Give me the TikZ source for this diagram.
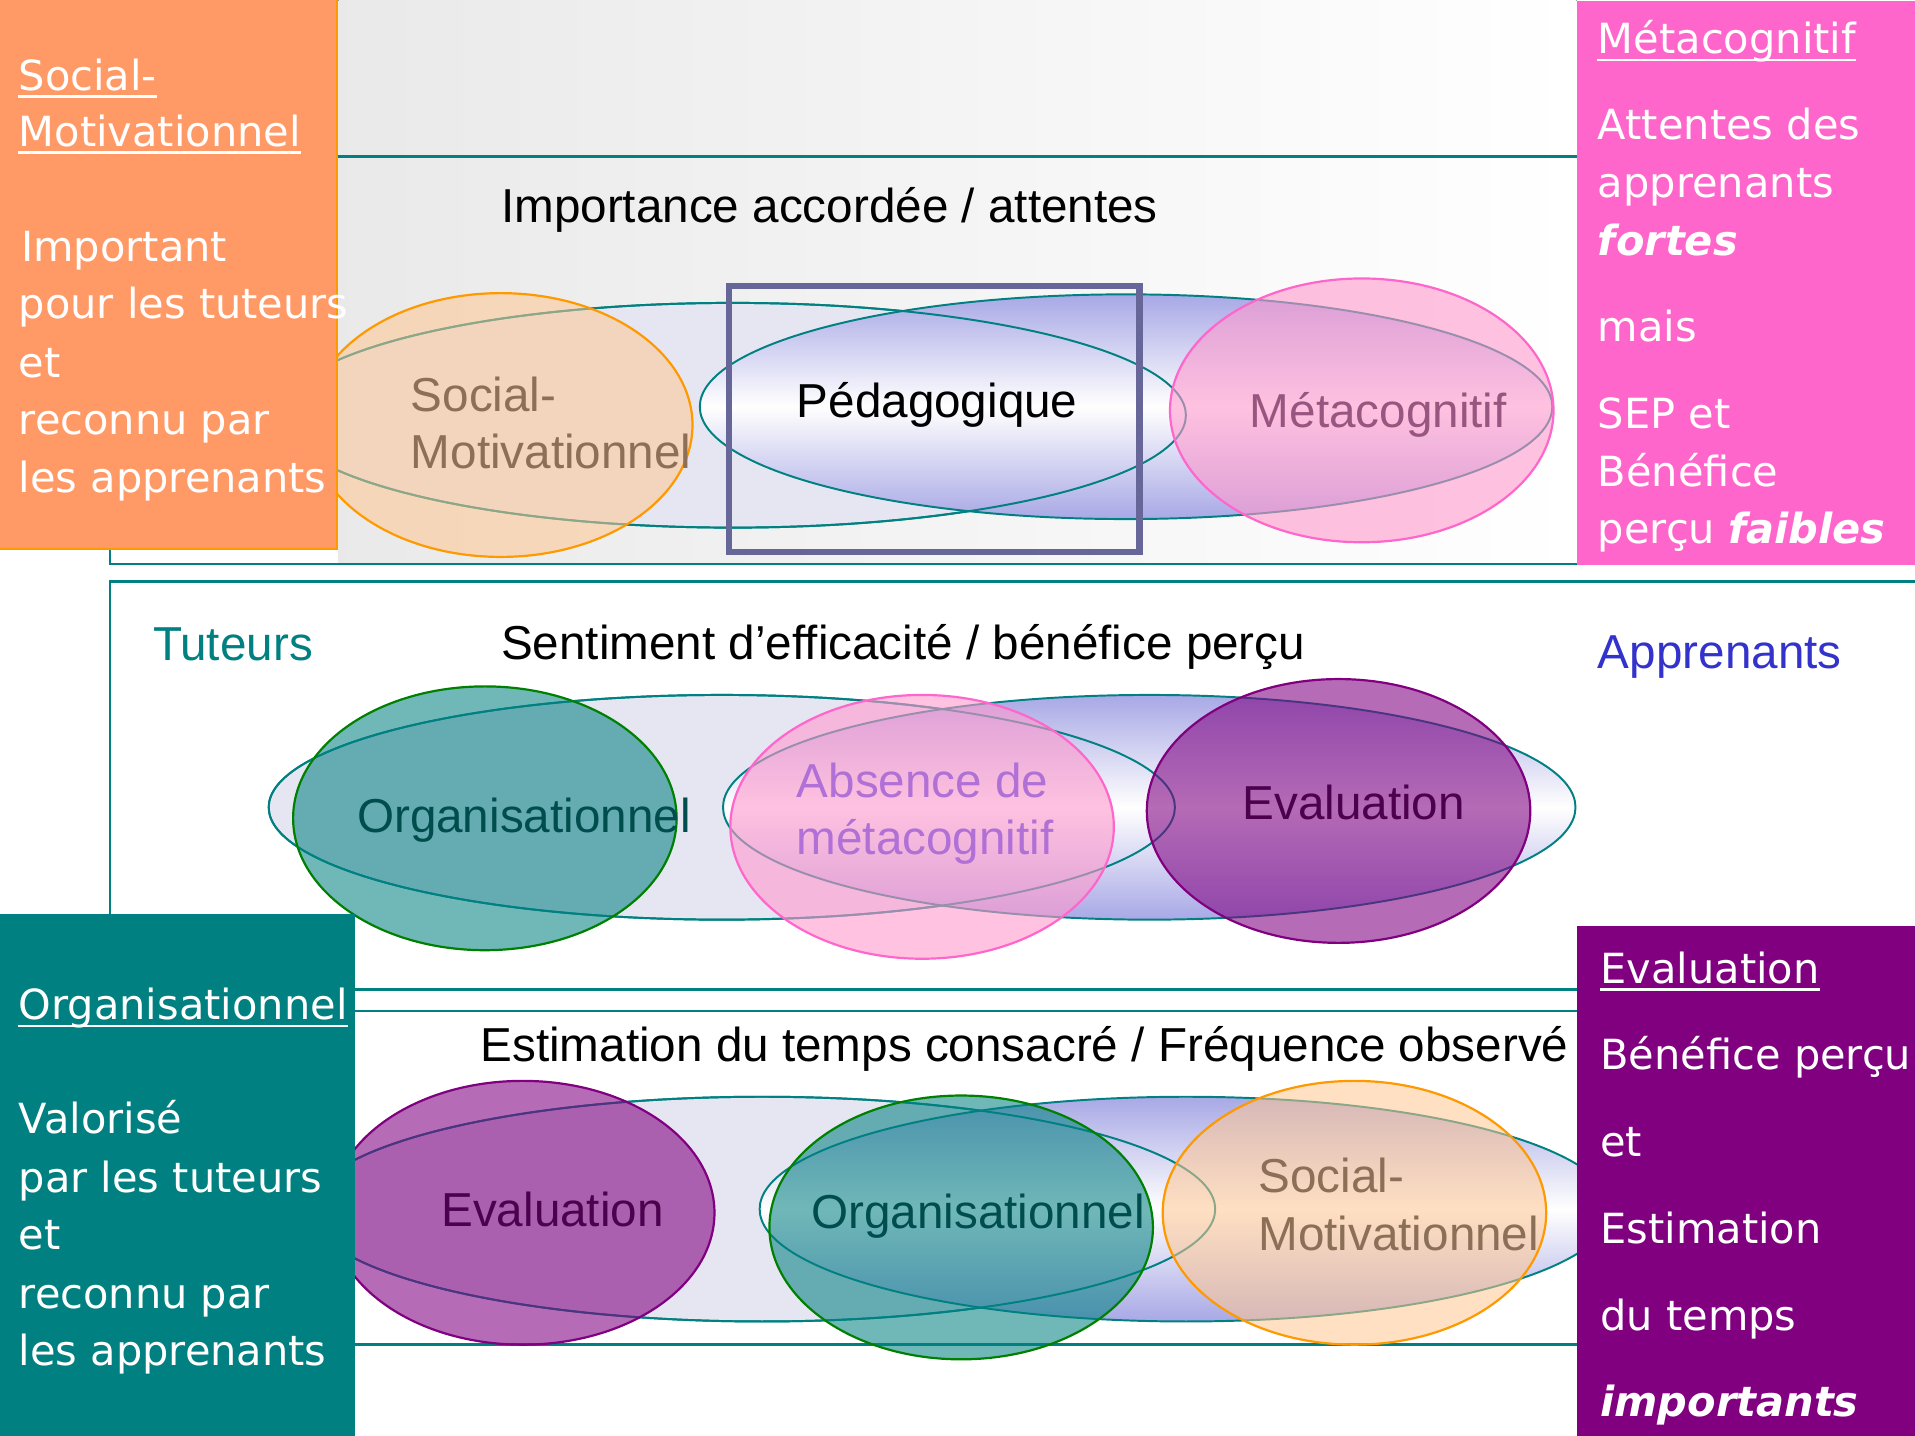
\documentclass[tikz,border=0pt]{standalone}
\usepackage{fontspec}
\setmainfont{Liberation Sans}
\newfontfamily\boxf{DejaVu Sans}
\usetikzlibrary{shapes.geometric}
\definecolor{tealA}{HTML}{008080}
\definecolor{orangeBox}{HTML}{FF9966}
\definecolor{pinkBox}{HTML}{FF66CC}
\definecolor{purpleBox}{HTML}{800080}
\definecolor{lavL}{HTML}{E6E6F2}
\definecolor{blueR}{HTML}{A8A8E6}
\definecolor{peachF}{HTML}{FFC690}
\definecolor{peachD}{HTML}{FF9900}
\definecolor{pinkF}{HTML}{FF99CC}
\definecolor{pinkD}{HTML}{FF66CC}
\definecolor{tealF}{HTML}{008080}
\definecolor{greenD}{HTML}{008000}
\definecolor{purF}{HTML}{800080}
\definecolor{rectC}{HTML}{666699}
\definecolor{txSocial}{HTML}{8C6F57}
\definecolor{txMeta}{HTML}{98557F}
\definecolor{txAbs}{HTML}{B070D6}
\definecolor{txOrg}{HTML}{004D4D}
\definecolor{txEval}{HTML}{4D004D}
\definecolor{txAppr}{HTML}{3333CC}
\begin{document}
\begin{tikzpicture}[x=0.5pt,y=-0.5pt,
  lab/.style={anchor=base west, inner sep=0pt, font=\fontsize{19.5pt}{23pt}\selectfont},
  btxt/.style={anchor=base west, inner sep=0pt, text=white, font=\boxf\fontsize{17pt}{20pt}\selectfont},
  bandframe/.style={draw=tealA, line width=1pt},
  ellL/.style={ellipse, inner sep=0pt, fill=lavL, draw=tealA, line width=0.8pt, minimum width=371pt, minimum height=92pt},
  ellR/.style={ellipse, inner sep=0pt, top color=blueR, bottom color=blueR, middle color=white, draw=tealA, line width=0.8pt, minimum width=349pt, minimum height=92pt},
  circ/.style={ellipse, inner sep=0pt, minimum width=157pt, minimum height=108pt, line width=0.9pt},
  cSocial/.style={circ, fill=peachF, fill opacity=0.55, draw=peachD},
  cMeta/.style={circ, fill=pinkF, fill opacity=0.6, draw=pinkD},
  cOrg/.style={circ, fill=tealF, fill opacity=0.56, draw=greenD},
  cEval/.style={circ, fill=purF, fill opacity=0.58, draw=purF},
  ul/.style={draw=white, line width=1pt},
  sidebox/.style={inner sep=0pt, anchor=north west},
]
\useasboundingbox (0,0) rectangle (1568,1175);
% background gradient
\fill[left color=gray!17, right color=white] (277,0) rectangle (1291,462);
% band frames
\draw[bandframe] (90,128) rectangle (1590,462);
\draw[bandframe] (90,476) rectangle (1590,810);
\draw[bandframe] (90,828) rectangle (1590,1101);

% ---------- band 1 ----------
\node[ellL] (b1L) at (600,340) {};
\node[ellR] (b1R) at (922,333) {};
\draw[tealA, line width=0.8pt] (b1L.center) ellipse [x radius=185.5pt, y radius=46pt];
\node[cSocial] (b1S) at (410,348) {};
\node[cMeta] (b1M) at (1115,336) {};
\node[lab] (t1) at (410,182) {Importance accordée / attentes};
\node[lab, text=txSocial] (b1S1) at (336,337) {Social-};
\node[lab, text=txSocial] (b1S2) at (336,384) {Motivationnel};
\node[lab] (b1P) at (652,342) {Pédagogique};
\node[lab, text=txMeta] (b1Mt) at (1023,350) {Métacognitif};
\draw[rectC, line width=2.6pt] (597,234) rectangle (933,452);

% ---------- band 2 ----------
\node[ellL] (b2L) at (591,661) {};
\node[ellR] (b2R) at (941,661) {};
\draw[tealA, line width=0.8pt] (b2L.center) ellipse [x radius=185.5pt, y radius=46pt];
\node[cOrg] (b2O) at (397,670) {};
\node[cMeta] (b2A) at (755,677) {};
\node[cEval] (b2E) at (1096,664) {};
\node[lab, text=tealA] (tut) at (125,541) {Tuteurs};
\node[lab] (t2) at (410,540) {Sentiment d’efficacité / bénéfice perçu};
\node[lab, text=txAppr] (app) at (1308,547) {Apprenants};
\node[lab, text=txOrg] (b2Ot) at (292,682) {Organisationnel};
\node[lab, text=txAbs] (b2A1) at (652,653) {Absence de};
\node[lab, text=txAbs] (b2A2) at (652,700) {métacognitif};
\node[lab, text=txEval] (b2Et) at (1017,671) {Evaluation};

% ---------- band 3 ----------
\node[ellL] (b3L) at (624,990) {};
\node[ellR] (b3R) at (971,990) {};
\draw[tealA, line width=0.8pt] (b3L.center) ellipse [x radius=185.5pt, y radius=46pt];
\node[cEval] (b3E) at (428,993) {};
\node[cOrg] (b3O) at (787,1005) {};
\node[cSocial] (b3S) at (1109,993) {};
\node[lab] (t3) at (393,869) {Estimation du temps consacré / Fréquence observé};
\node[lab, text=txEval] (b3Et) at (361,1004) {Evaluation};
\node[lab, text=txOrg] (b3Ot) at (664,1006) {Organisationnel};
\node[lab, text=txSocial] (b3S1) at (1030,976) {Social-};
\node[lab, text=txSocial] (b3S2) at (1030,1024) {Motivationnel};

% ---------- side boxes ----------
\node[sidebox, fill=orangeBox, draw=peachD, line width=0.8pt, minimum width=138.5pt, minimum height=225.5pt] (boxO) at (-2,-2) {};
\node[sidebox, fill=pinkBox, minimum width=138.5pt, minimum height=231pt] (boxP) at (1291,0) {};
\node[sidebox, fill=tealA, minimum width=145pt, minimum height=213.5pt] (boxT) at (0,748) {};
\node[sidebox, fill=purpleBox, minimum width=138.5pt, minimum height=208.5pt] (boxV) at (1291,758) {};

% orange box text
\node[btxt] (o1) at (15,74) {Social-};
\node[btxt] (o2) at (15,120) {Motivationnel};
\draw[ul] ([yshift=-2.5pt]o1.base west) -- ([yshift=-2.5pt]o1.base east);
\draw[ul] ([yshift=-2.5pt]o2.base west) -- ([yshift=-2.5pt]o2.base east);
\node[btxt] (o3) at (17,214) {Important};
\node[btxt] (o4) at (15,261) {pour les tuteurs};
\node[btxt] (o5) at (15,309) {et};
\node[btxt] (o6) at (15,356) {reconnu par};
\node[btxt] (o7) at (15,403) {les apprenants};

% pink box text
\node[btxt] (p1) at (1308,44) {Métacognitif};
\draw[ul] ([yshift=-2.5pt]p1.base west) -- ([yshift=-2.5pt]p1.base east);
\node[btxt] (p2) at (1308,114) {Attentes des};
\node[btxt] (p3) at (1308,162) {apprenants};
\node[btxt] (p4) at (1308,209) {\bfseries\itshape fortes};
\node[btxt] (p5) at (1308,280) {mais};
\node[btxt] (p6) at (1308,351) {SEP et};
\node[btxt] (p7) at (1308,398) {Bénéfice};
\node[btxt] (p8) at (1308,445) {perçu \textbf{\textit{faibles}}};

% teal box text
\node[btxt] (g1) at (15,835) {Organisationnel};
\draw[ul] ([yshift=-2.5pt]g1.base west) -- ([yshift=-2.5pt]g1.base east);
\node[btxt] (g2) at (15,928) {Valorisé};
\node[btxt] (g3) at (15,976) {par les tuteurs};
\node[btxt] (g4) at (15,1023) {et};
\node[btxt] (g5) at (15,1071) {reconnu par};
\node[btxt] (g6) at (15,1118) {les apprenants};

% purple box text
\node[btxt] (v1) at (1310,805) {Evaluation};
\draw[ul] ([yshift=-2.5pt]v1.base west) -- ([yshift=-2.5pt]v1.base east);
\node[btxt] (v2) at (1310,876) {Bénéfice perçu};
\node[btxt] (v3) at (1310,947) {et};
\node[btxt] (v4) at (1310,1018) {Estimation};
\node[btxt] (v5) at (1310,1089) {du temps};
\node[btxt] (v6) at (1310,1160) {\bfseries\itshape importants};
\end{tikzpicture}
\end{document}
